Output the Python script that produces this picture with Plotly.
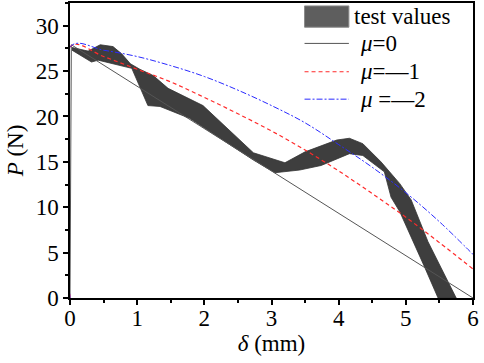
import plotly.graph_objects as go

# ---- data ----
band_upper_x = [0.03, 0.27, 0.45, 0.64, 0.77, 0.90, 1.04, 1.24, 1.46, 1.98, 2.73, 3.20, 3.50, 3.97, 4.16, 4.36, 4.63, 4.91, 5.08, 5.33, 5.75]
band_upper_y = [27.6, 27.2, 27.9, 27.7, 26.9, 25.8, 25.2, 24.5, 23.1, 21.2, 16.0, 14.9, 16.1, 17.4, 17.6, 17.0, 15.0, 12.6, 10.8, 6.2, 0.0]
band_lower_x = [0.03, 0.32, 0.42, 0.92, 1.16, 1.34, 1.49, 1.78, 2.73, 3.05, 3.42, 3.74, 4.16, 4.36, 4.68, 4.78, 4.91, 5.28, 5.48]
band_lower_y = [27.3, 26.0, 26.2, 25.3, 21.2, 21.1, 20.7, 19.8, 15.2, 13.8, 14.1, 14.6, 15.9, 15.7, 13.9, 11.1, 9.5, 3.4, 0.0]

mu0_x = [0, 0.02, 6.0]
mu0_y = [0, 27.9, 0.0]

curve_x = [0, 0.02, 0.5, 1.0, 1.5, 2.0, 2.5, 3.0, 3.5, 4.0, 4.5, 5.0, 5.5, 6.0]
mu1_y = [0, 27.8, 26.6, 25.2, 23.8, 22.1, 20.3, 18.4, 16.3, 14.0, 11.5, 8.9, 6.1, 3.2]
mu2_y = [0, 27.8, 27.3, 26.6, 25.6, 24.4, 22.9, 21.2, 19.3, 16.9, 14.4, 11.6, 8.4, 4.8]

x_ticks = [0, 1, 2, 3, 4, 5, 6]
y_ticks = [0, 5, 10, 15, 20, 25, 30]

FONT = "Liberation Serif, Times New Roman, serif"

fig = go.Figure()

# test value band
fig.add_trace(go.Scatter(
    x=band_upper_x + band_lower_x[::-1],
    y=band_upper_y + band_lower_y[::-1],
    fill="toself", fillcolor="#3e3e3e",
    line=dict(color="#333333", width=0.8),
    mode="lines", showlegend=False, hoverinfo="skip"))

fig.add_trace(go.Scatter(x=mu0_x, y=mu0_y, mode="lines",
                         line=dict(color="#555555", width=1), showlegend=False))
fig.add_trace(go.Scatter(x=curve_x, y=mu1_y, mode="lines", line_shape="spline",
                         line=dict(color="#ff2a2a", width=1.2, dash="4px,3px"), showlegend=False))
fig.add_trace(go.Scatter(x=curve_x, y=mu2_y, mode="lines", line_shape="spline",
                         line=dict(color="#2a2aff", width=1, dash="6px,2px,2px,2px"), showlegend=False))

# manual legend
lx0, lx1 = 0.582, 0.692
fig.add_shape(type="rect", xref="paper", yref="paper", x0=lx0, x1=lx1, y0=0.918, y1=0.990,
              fillcolor="#5e5e5e", line=dict(color="#8a8a8a", width=1))
fig.add_shape(type="line", xref="paper", yref="paper", x0=lx0, x1=lx1, y0=0.863, y1=0.863,
              line=dict(color="#555555", width=1))
fig.add_shape(type="line", xref="paper", yref="paper", x0=lx0, x1=lx1, y0=0.767, y1=0.767,
              line=dict(color="#ff2a2a", width=1.2, dash="4px,3px"))
fig.add_shape(type="line", xref="paper", yref="paper", x0=lx0, x1=lx1, y0=0.674, y1=0.674,
              line=dict(color="#2a2aff", width=1, dash="6px,2px,2px,2px"))

legend_texts = ["test values", "<i>μ</i>=0", "<i>μ</i>=—1", "<i>μ</i> =—2"]
legend_y = [0.954, 0.863, 0.767, 0.674]
legend_x = [0.700, 0.715, 0.715, 0.715]
for t, yy, xx in zip(legend_texts, legend_y, legend_x):
    fig.add_annotation(text=t, xref="paper", yref="paper", x=xx, y=yy,
                       xanchor="left", yanchor="middle", showarrow=False,
                       font=dict(family=FONT, size=23, color="black"))

axis_common = dict(showgrid=False, zeroline=False, showline=True, linecolor="black",
                   linewidth=1.5, mirror=True, ticks="outside", tickcolor="black",
                   tickwidth=1.5, ticklen=5,
                   tickfont=dict(family=FONT, size=23, color="black"))

fig.update_xaxes(range=[0, 6], tickvals=x_ticks, ticktext=[str(v) for v in x_ticks],
                 ticklabelstandoff=-6,
                 minor=dict(dtick=0.5, ticks="outside", ticklen=3, tickcolor="black", tickwidth=1.5),
                 title=dict(text="<i>δ</i> (mm)", font=dict(family=FONT, size=23, color="black"), standoff=4),
                 **axis_common)
fig.update_yaxes(range=[0, 32.5], tickvals=y_ticks, ticktext=[str(v) for v in y_ticks],
                 minor=dict(dtick=2.5, ticks="outside", ticklen=3, tickcolor="black", tickwidth=1.5),
                 title=dict(text="<i>P</i> (N)", font=dict(family=FONT, size=23, color="black"), standoff=6),
                 **axis_common)

fig.update_layout(width=484, height=363, margin=dict(l=70, r=10.5, t=3, b=65.3, autoexpand=False),
                  plot_bgcolor="white", paper_bgcolor="white", showlegend=False,
                  font=dict(family=FONT))

fig.write_html("out.html", config={"displayModeBar": False},
               post_script="document.body.style.margin='0px';")
